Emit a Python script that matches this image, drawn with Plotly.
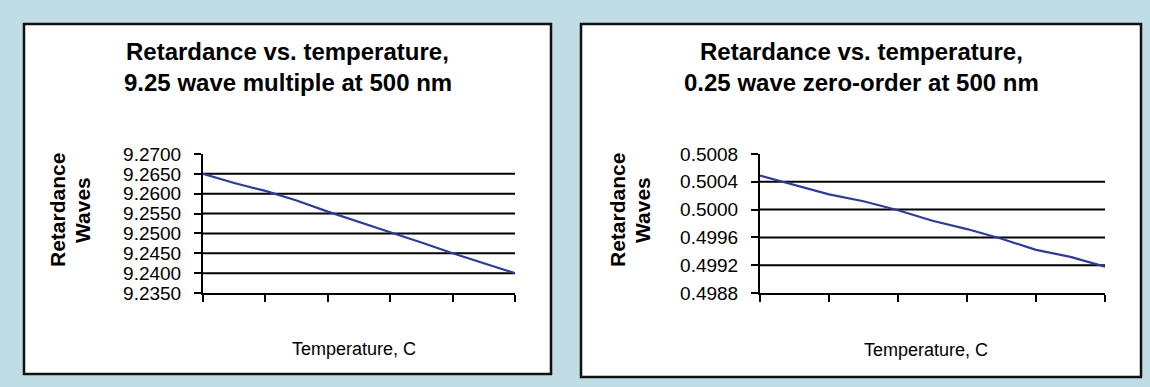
import plotly.graph_objects as go

# ---- data ----
temp_idx = [0, 1, 2, 3, 4, 5, 6, 7, 8, 9, 10]
multi_wave = [9.2650, 9.2627, 9.2607, 9.2583, 9.2555, 9.2528, 9.2503, 9.2477, 9.2450, 9.2425, 9.2400]
zero_wave = [0.50049, 0.50036, 0.50022, 0.50012, 0.49999, 0.49984, 0.49972, 0.49958, 0.49942, 0.49932, 0.49918]

left_ticks = [9.2350, 9.2400, 9.2450, 9.2500, 9.2550, 9.2600, 9.2650, 9.2700]
left_ticktext = ["9.2350", "9.2400", "9.2450", "9.2500", "9.2550", "9.2600", "9.2650", "9.2700"]
right_ticks = [0.4988, 0.4992, 0.4996, 0.5000, 0.5004, 0.5008]
right_ticktext = ["0.4988", "0.4992", "0.4996", "0.5000", "0.5004", "0.5008"]
x_ticks = [0, 2, 4, 6, 8, 10]

left_title = ["Retardance vs. temperature,", "9.25 wave multiple at 500 nm"]
right_title = ["Retardance vs. temperature,", "0.25 wave zero-order at 500 nm"]
ytitle = ["Retardance", "Waves"]
xtitle = "Temperature, C"

W, H = 1150, 387
FONT = "Liberation Sans, Arial, Helvetica, sans-serif"
LINE_COLOR = "#2f3c96"
BG = "#c0dde6"

def px(x):
    return x / W

def py(y):
    return 1 - y / H

fig = go.Figure()
fig.add_trace(go.Scatter(x=temp_idx, y=multi_wave, mode="lines",
                         line=dict(color=LINE_COLOR, width=2.2), xaxis="x", yaxis="y",
                         showlegend=False, hoverinfo="skip"))
fig.add_trace(go.Scatter(x=temp_idx, y=zero_wave, mode="lines",
                         line=dict(color=LINE_COLOR, width=2.2), xaxis="x2", yaxis="y2",
                         showlegend=False, hoverinfo="skip"))

ydom = [py(293), py(154)]

common_x = dict(range=[0, 10], tickvals=x_ticks, showticklabels=False, ticks="outside",
                ticklen=7, tickwidth=2, tickcolor="black", showline=True, linecolor="black",
                linewidth=2, showgrid=False, zeroline=False, fixedrange=True, automargin=False)
common_y = dict(ticks="outside", ticklen=7, tickwidth=2, tickcolor="black", showline=True,
                linecolor="black", linewidth=2, showgrid=False, zeroline=False,
                tickfont=dict(family=FONT, size=19, color="black"), ticklabelstandoff=9,
                fixedrange=True, automargin=False)

fig.update_layout(
    template="none",
    width=W, height=H, autosize=False,
    margin=dict(l=0, r=0, t=0, b=0, pad=0, autoexpand=False),
    paper_bgcolor=BG, plot_bgcolor="white",
    xaxis=dict(domain=[px(203), px(515)], anchor="y", **common_x),
    yaxis=dict(domain=ydom, anchor="x", range=[left_ticks[0], left_ticks[-1]],
               tickvals=left_ticks, ticktext=left_ticktext, **common_y),
    xaxis2=dict(domain=[px(760), px(1105)], anchor="y2", **common_x),
    yaxis2=dict(domain=ydom, anchor="x2", range=[right_ticks[0], right_ticks[-1]],
                tickvals=right_ticks, ticktext=right_ticktext, **common_y),
)

shapes = []
# panel boxes
for (x0, y0, x1, y1) in [(24, 24, 551, 374), (581, 24, 1141, 377)]:
    shapes.append(dict(type="rect", xref="paper", yref="paper", x0=px(x0), x1=px(x1),
                       y0=py(y1), y1=py(y0), fillcolor="white",
                       line=dict(color="#111111", width=2.5), layer="below"))
# inner gridlines (no gridline at top/bottom)
for v in left_ticks[1:-1]:
    shapes.append(dict(type="line", xref="x domain", yref="y", x0=0, x1=1, y0=v, y1=v,
                       line=dict(color="black", width=2), layer="below"))
for v in right_ticks[1:-1]:
    shapes.append(dict(type="line", xref="x2 domain", yref="y2", x0=0, x1=1, y0=v, y1=v,
                       line=dict(color="black", width=2), layer="below"))
fig.update_layout(shapes=shapes)

ann = []
def text(x, y, s, size, bold=False, angle=0):
    ann.append(dict(xref="paper", yref="paper", x=px(x), y=py(y), text=(f"<b>{s}</b>" if bold else s),
                    showarrow=False, xanchor="center", yanchor="middle", textangle=angle,
                    font=dict(family=FONT, size=size, color="black")))

# left panel
text(287.5, 52, left_title[0], 24, bold=True)
text(287.5, 83, left_title[1], 24, bold=True)
text(57, 210, ytitle[0], 21, bold=True, angle=-90)
text(82, 210, ytitle[1], 21, bold=True, angle=-90)
text(354, 349, xtitle, 18)
# right panel
text(861, 52, right_title[0], 24, bold=True)
text(861, 83, right_title[1], 24, bold=True)
text(617, 210, ytitle[0], 21, bold=True, angle=-90)
text(642, 210, ytitle[1], 21, bold=True, angle=-90)
text(926, 350, xtitle, 18)
fig.update_layout(annotations=ann)

post = (
    "document.documentElement.style.margin='0';"
    "document.documentElement.style.overflow='hidden';"
    "document.body.style.margin='0';"
    "document.body.style.overflow='hidden';"
    "var d=document.getElementById('{plot_id}');"
    "d.style.position='fixed';d.style.top='0px';d.style.left='0px';"
)
fig.write_html("out.html", config={"displayModeBar": False}, post_script=post)
